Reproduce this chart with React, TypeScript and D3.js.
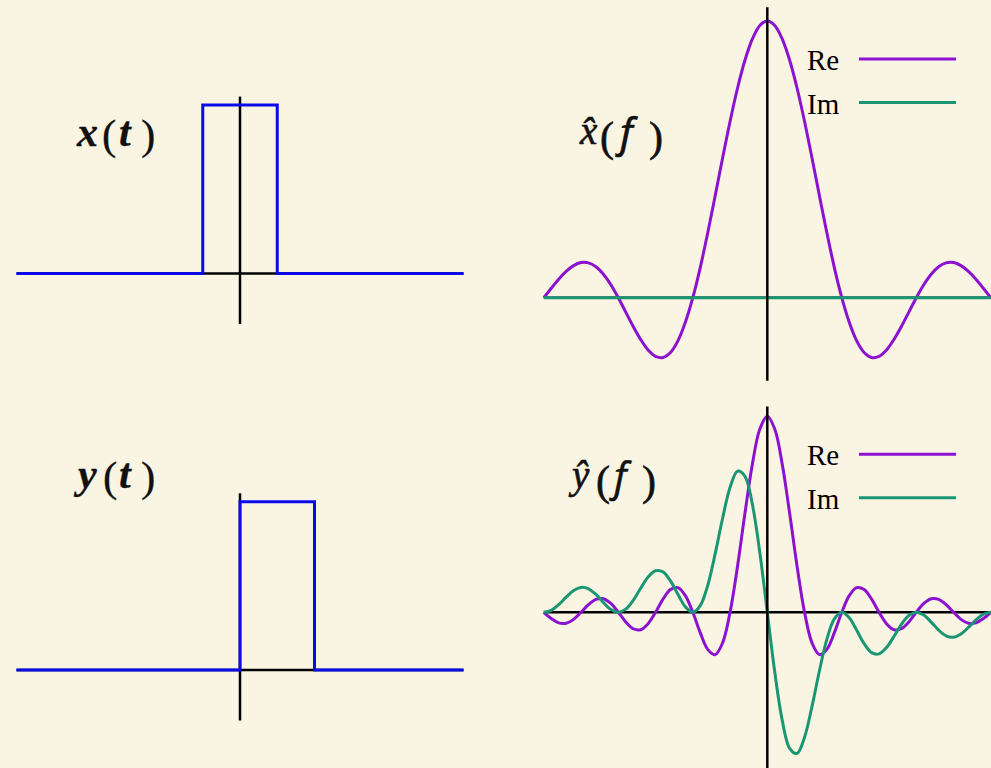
import React from "react";
import * as d3 from "d3";

// Time-domain pulses: breakpoints (t) and levels
const xPulseT = [-3, -0.5, -0.5, 0.5, 0.5, 3];
const xPulseV = [0, 0, 1, 1, 0, 0];
const yPulseT = [-3, 0, 0, 1, 1, 3];
const yPulseV = [0, 0, 1, 1, 0, 0];

// Frequency grid
const freqs = [
  -3.0, -2.9, -2.8, -2.7, -2.6, -2.5, -2.4, -2.3, -2.2, -2.1,
  -2.0, -1.9, -1.8, -1.7, -1.6, -1.5, -1.4, -1.3, -1.2, -1.1,
  -1.0, -0.9, -0.8, -0.7, -0.6, -0.5, -0.4, -0.3, -0.2, -0.1,
  0.0, 0.1, 0.2, 0.3, 0.4, 0.5, 0.6, 0.7, 0.8, 0.9,
  1.0, 1.1, 1.2, 1.3, 1.4, 1.5, 1.6, 1.7, 1.8, 1.9,
  2.0, 2.1, 2.2, 2.3, 2.4, 2.5, 2.6, 2.7, 2.8, 2.9, 3.0,
];

// Spectrum of x(t)
const xHatRe = [
  0, 0.034, 0.067, 0.095, 0.116, 0.127, 0.126, 0.112, 0.085, 0.047,
  0, -0.052, -0.104, -0.151, -0.189, -0.212, -0.216, -0.198, -0.156, -0.089,
  0, 0.109, 0.234, 0.368, 0.505, 0.637, 0.757, 0.858, 0.935, 0.984,
  1,
  0.984, 0.935, 0.858, 0.757, 0.637, 0.505, 0.368, 0.234, 0.109, 0,
  -0.089, -0.156, -0.198, -0.216, -0.212, -0.189, -0.151, -0.104, -0.052, 0,
  0.047, 0.085, 0.112, 0.126, 0.127, 0.116, 0.095, 0.067, 0.034, 0,
];
const xHatIm = [
  0, 0, 0, 0, 0, 0, 0, 0, 0, 0,
  0, 0, 0, 0, 0, 0, 0, 0, 0, 0,
  0, 0, 0, 0, 0, 0, 0, 0, 0, 0,
  0,
  0, 0, 0, 0, 0, 0, 0, 0, 0, 0,
  0, 0, 0, 0, 0, 0, 0, 0, 0, 0,
  0, 0, 0, 0, 0, 0, 0, 0, 0, 0,
];

// Spectrum of y(t)
const yHatRe = [
  0, -0.032, -0.054, -0.056, -0.036, 0, 0.039, 0.066, 0.069, 0.045,
  0, -0.049, -0.084, -0.089, -0.058, 0, 0.067, 0.116, 0.126, 0.085,
  0, -0.104, -0.189, -0.216, -0.156, 0, 0.234, 0.505, 0.757, 0.935,
  1,
  0.935, 0.757, 0.505, 0.234, 0, -0.156, -0.216, -0.189, -0.104, 0,
  0.085, 0.126, 0.116, 0.067, 0, -0.058, -0.089, -0.084, -0.049, 0,
  0.045, 0.069, 0.066, 0.039, 0, -0.036, -0.056, -0.054, -0.032, 0,
];
const yHatIm = [
  0, 0.010, 0.039, 0.077, 0.111, 0.127, 0.120, 0.091, 0.050, 0.014,
  0, 0.016, 0.061, 0.123, 0.180, 0.212, 0.206, 0.160, 0.092, 0.028,
  0, 0.034, 0.137, 0.298, 0.480, 0.637, 0.720, 0.694, 0.550, 0.304,
  0,
  -0.304, -0.550, -0.694, -0.720, -0.637, -0.480, -0.298, -0.137, -0.034, 0,
  -0.028, -0.092, -0.160, -0.206, -0.212, -0.180, -0.123, -0.061, -0.016, 0,
  -0.014, -0.050, -0.091, -0.120, -0.127, -0.111, -0.077, -0.039, -0.010, 0,
];

const legendLabels = ["Re", "Im"];

const BG = "#faf5e3";
const BLUE = "#0b0bea";
const PURPLE = "#8c12cf";
const GREEN = "#1a9673";
const AXIS = "#000000";
const INK = "#111111";
const TIMES = "'Liberation Serif', 'Times New Roman', serif";
const NOTO = "'Noto Sans', sans-serif";
const OPEN = "'Open Sans', sans-serif";

const W = 991;
const H = 768;

const timeX = d3.scaleLinear().domain([-3, 3]).range([16.5, 463.5]);
const freqX = d3.scaleLinear().domain([-3, 3]).range([543.8, 990.8]);

const tlY = d3.scaleLinear().domain([0, 1]).range([273.5, 105]);
const blY = d3.scaleLinear().domain([0, 1]).range([670, 501.7]);
const trY = d3.scaleLinear().domain([0, 1]).range([297.7, 21]);
const brY = d3.scaleLinear().domain([0, 1]).range([612.3, 416.3]);

type Pt = [number, number];

const zip = (a: number[], b: number[]): Pt[] => a.map((v, i) => [v, b[i]]);

function stepPath(xs: d3.ScaleLinear<number, number>, ys: d3.ScaleLinear<number, number>, t: number[], v: number[]) {
  return d3
    .line<Pt>()
    .x((d) => xs(d[0]))
    .y((d) => ys(d[1]))
    .curve(d3.curveLinear)(zip(t, v)) as string;
}

function smoothPath(ys: d3.ScaleLinear<number, number>, v: number[]) {
  return d3
    .line<Pt>()
    .x((d) => freqX(d[0]))
    .y((d) => ys(d[1]))
    .curve(d3.curveCatmullRom.alpha(0.5))(zip(freqs, v)) as string;
}

function Legend({ top }: { top: number }) {
  const colors = [PURPLE, GREEN];
  return (
    <g>
      {legendLabels.map((lab, i) => {
        const yLine = top + i * 43.5;
        return (
          <g key={lab}>
            <text x={807} y={yLine + 11} fontFamily={TIMES} fontSize={29} fill="#000">
              {lab}
            </text>
            <line x1={859} x2={956} y1={yLine} y2={yLine} stroke={colors[i]} strokeWidth={3} />
          </g>
        );
      })}
    </g>
  );
}

type Glyph = { s: string; x: number; y: number; size: number; italic: boolean; bold?: boolean; font?: string };

// A function-name label such as x(t): each glyph is placed on its own,
// letters in italic, parentheses upright and taller.
function MathLabel({ parts, heavy }: { parts: Glyph[]; heavy: number }) {
  return (
    <text fontFamily={TIMES} fill={INK} stroke={INK} strokeWidth={heavy}>
      {parts.map((p, i) => (
        <tspan
          key={i}
          x={p.x}
          y={p.y}
          fontSize={p.size}
          fontFamily={p.font}
          fontStyle={p.italic ? "italic" : "normal"}
          fontWeight={p.bold ? "bold" : "normal"}
        >
          {p.s}
        </tspan>
      ))}
    </text>
  );
}

export default function App() {
  return (
    <svg
      width={W}
      height={H}
      viewBox={`0 0 ${W} ${H}`}
      style={{ position: "absolute", left: 0, top: 0, display: "block" }}
    >
      <rect x={0} y={0} width={W} height={H} fill={BG} />

      {/* x(t) */}
      <g>
        <line x1={timeX(-3)} x2={timeX(3)} y1={tlY(0)} y2={tlY(0)} stroke={AXIS} strokeWidth={2.5} />
        <line x1={timeX(0)} x2={timeX(0)} y1={tlY(1.05)} y2={tlY(-0.3)} stroke={AXIS} strokeWidth={2.5} />
        <path d={stepPath(timeX, tlY, xPulseT, xPulseV)} fill="none" stroke={BLUE} strokeWidth={3} />
        <MathLabel
          heavy={0.3}
          parts={[
            { s: "x", x: 77, y: 146, size: 42, italic: true, bold: true },
            { s: "(", x: 102, y: 149, size: 43, italic: false },
            { s: "t", x: 119, y: 146, size: 42, italic: true, bold: true },
            { s: ")", x: 141, y: 149, size: 43, italic: false },
          ]}
        />
      </g>

      {/* y(t) */}
      <g>
        <line x1={timeX(-3)} x2={timeX(3)} y1={blY(0)} y2={blY(0)} stroke={AXIS} strokeWidth={2.5} />
        <line x1={timeX(0)} x2={timeX(0)} y1={blY(1.05)} y2={blY(-0.3)} stroke={AXIS} strokeWidth={2.5} />
        <path d={stepPath(timeX, blY, yPulseT, yPulseV)} fill="none" stroke={BLUE} strokeWidth={3} />
        <MathLabel
          heavy={0.3}
          parts={[
            { s: "y", x: 78, y: 488, size: 42, italic: true, bold: true },
            { s: "(", x: 103, y: 491, size: 43, italic: false },
            { s: "t", x: 119, y: 488, size: 42, italic: true, bold: true },
            { s: ")", x: 141, y: 491, size: 43, italic: false },
          ]}
        />
      </g>

      {/* x̂(f) */}
      <g>
        <line x1={freqX(-3)} x2={freqX(3)} y1={trY(0)} y2={trY(0)} stroke={AXIS} strokeWidth={2.5} />
        <path d={smoothPath(trY, xHatRe)} fill="none" stroke={PURPLE} strokeWidth={3} />
        <path d={smoothPath(trY, xHatIm)} fill="none" stroke={GREEN} strokeWidth={3} />
        <line x1={freqX(0)} x2={freqX(0)} y1={trY(1.05)} y2={trY(-0.3)} stroke={AXIS} strokeWidth={2.5} />
        <MathLabel
          heavy={0.6}
          parts={[
            { s: "x\u0302", x: 580, y: 144, size: 39, italic: true },
            { s: "(", x: 600, y: 151, size: 42, italic: false },
            { s: "f", x: 620, y: 147, size: 40, italic: true, font: NOTO },
            { s: ")", x: 649, y: 151, size: 42, italic: false },
          ]}
        />
        <Legend top={59} />
      </g>

      {/* ŷ(f) */}
      <g>
        <line x1={freqX(-3)} x2={freqX(3)} y1={brY(0)} y2={brY(0)} stroke={AXIS} strokeWidth={2.5} />
        <path d={smoothPath(brY, yHatRe)} fill="none" stroke={PURPLE} strokeWidth={3} />
        <path d={smoothPath(brY, yHatIm)} fill="none" stroke={GREEN} strokeWidth={3} />
        <line x1={freqX(0)} x2={freqX(0)} y1={brY(1.05)} y2={brY(-0.8)} stroke={AXIS} strokeWidth={2.5} />
        <MathLabel
          heavy={0.6}
          parts={[
            { s: "\u0177", x: 572, y: 488, size: 39, italic: true },
            { s: "(", x: 596, y: 495, size: 42, italic: false },
            { s: "f", x: 614, y: 491, size: 40, italic: true, font: OPEN },
            { s: ")", x: 642, y: 495, size: 42, italic: false },
          ]}
        />
        <Legend top={454.3} />
      </g>
    </svg>
  );
}
